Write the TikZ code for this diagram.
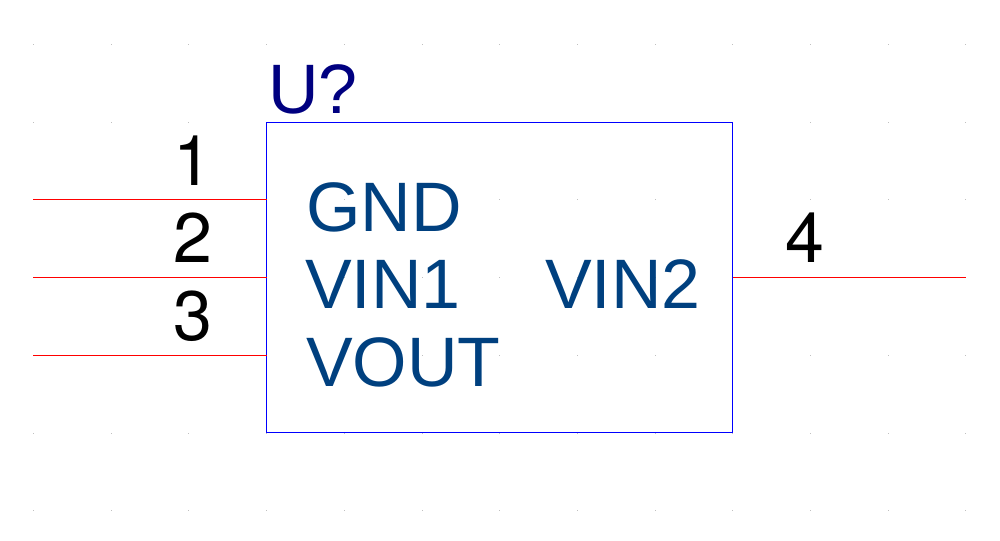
\documentclass[tikz,border=0pt]{standalone}
\usepackage{fontspec}
\setmainfont{Liberation Sans}
\newfontfamily\digitfont{TeX Gyre Heros}
\definecolor{pinname}{HTML}{00407F}
\definecolor{refname}{HTML}{000080}
\definecolor{griddot}{HTML}{C0C0C0}
\tikzstyle{partbox}=[draw=blue, line width=0.75pt, inner sep=0pt, outer sep=0pt, minimum width=349.5pt, minimum height=232.5pt]
\tikzstyle{pinline}=[red, line width=0.75pt]
\tikzstyle{bigtext}=[anchor=base west, inner sep=0pt, outer sep=0pt, font=\fontsize{52.5pt}{52.5pt}\selectfont]
\tikzstyle{pinnumber}=[bigtext, text=black, font=\fontsize{52.5pt}{52.5pt}\selectfont\digitfont]
\tikzstyle{pintext}=[bigtext, text=pinname]

\begin{document}
\begin{tikzpicture}[x=0.75pt,y=-0.75pt]
            \useasboundingbox (0,0) rectangle (1000,540);
            \foreach \i in {0,...,12}
                \foreach \j in {0,...,6}
                    \fill[griddot] (33+77.7*\i,44+77.7*\j) rectangle ++(1,1);
            \node[partbox] at (499.5,277.3) (U) {};
            \coordinate (P1) at (33,199.4);
            \coordinate (P2) at (33,277.4);
            \coordinate (P3) at (33,355.4);
            \coordinate (P4) at (966,277.4);
            \draw[pinline] (P1) -- (P1 -| U.west);
            \draw[pinline] (P2) -- (P2 -| U.west);
            \draw[pinline] (P3) -- (P3 -| U.west);
            \draw[pinline] (U.east |- P4) -- (P4);
            \node[bigtext, text=refname] at (268,113) (ref) {U?};
            \node[pinnumber] at (173,185) (N1) {1};
            \node[pinnumber] at (173,262) (N2) {2};
            \node[pinnumber] at (173,340) (N3) {3};
            \node[pinnumber] at (785,262) (N4) {4};
            \node[pintext] at (306,231) (gnd) {GND};
            \node[pintext] at (305,308.5) (vin1) {VIN1};
            \node[pintext] at (306,386) (vout) {VOUT};
            \node[pintext] at (545,308.5) (vin2) {VIN2};
        \end{tikzpicture}
\end{document}
